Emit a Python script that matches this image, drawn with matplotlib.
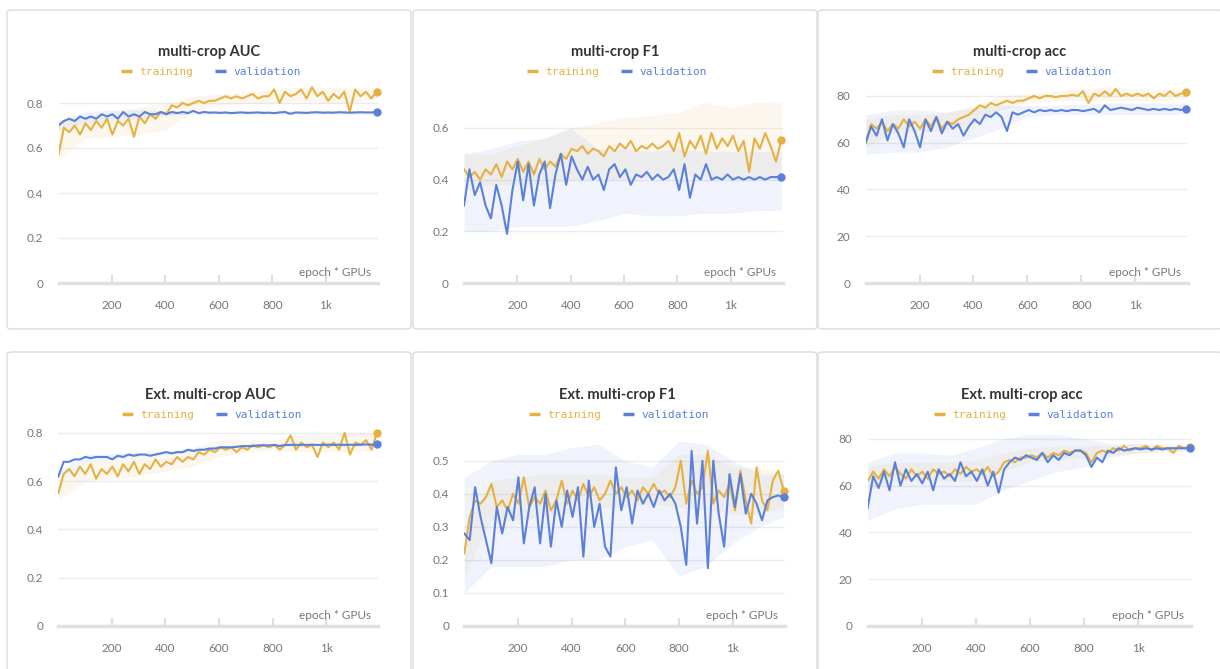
import numpy as np
import matplotlib
matplotlib.use("Agg")
import matplotlib.pyplot as plt
from matplotlib.patches import FancyBboxPatch

# ---------------- data ----------------
epochs = np.linspace(0, 1190, 60)
band_epochs = [0, 100, 200, 300, 400, 500, 600, 700, 800, 900, 1000, 1100, 1190]
x_ticks = [200, 400, 600, 800, 1000]
x_tick_labels = ["200", "400", "600", "800", "1k"]

titles = ["multi-crop AUC", "multi-crop F1", "multi-crop acc",
          "Ext. multi-crop AUC", "Ext. multi-crop F1", "Ext. multi-crop acc"]
series_names = ["training", "validation"]

auc_train = [0.57, 0.69, 0.67, 0.70, 0.66, 0.71, 0.68, 0.72, 0.69, 0.73,
             0.66, 0.72, 0.70, 0.73, 0.65, 0.74, 0.71, 0.75, 0.73, 0.76,
             0.75, 0.79, 0.78, 0.80, 0.79, 0.80, 0.81, 0.80, 0.81, 0.81,
             0.82, 0.83, 0.82, 0.83, 0.82, 0.83, 0.84, 0.82, 0.83, 0.83,
             0.86, 0.80, 0.85, 0.83, 0.84, 0.86, 0.82, 0.87, 0.83, 0.85,
             0.81, 0.84, 0.82, 0.85, 0.76, 0.86, 0.83, 0.85, 0.82, 0.85]
auc_val = [0.70, 0.72, 0.73, 0.72, 0.74, 0.73, 0.74, 0.73, 0.75, 0.74,
           0.75, 0.73, 0.76, 0.74, 0.75, 0.74, 0.76, 0.75, 0.75, 0.76,
           0.75, 0.76, 0.755, 0.76, 0.755, 0.765, 0.755, 0.76, 0.757, 0.758,
           0.756, 0.758, 0.755, 0.757, 0.758, 0.756, 0.757, 0.758, 0.756, 0.757,
           0.755, 0.758, 0.76, 0.752, 0.758, 0.757, 0.756, 0.758, 0.759, 0.757,
           0.758, 0.757, 0.759, 0.758, 0.757, 0.758, 0.759, 0.758, 0.758, 0.76]
auc_train_lo = [0.55, 0.64, 0.65, 0.66, 0.68, 0.76, 0.79, 0.80, 0.80, 0.81, 0.80, 0.80, 0.82]
auc_train_hi = [0.72, 0.74, 0.76, 0.78, 0.80, 0.83, 0.84, 0.85, 0.86, 0.87, 0.87, 0.87, 0.87]
auc_val_lo = [0.68, 0.71, 0.72, 0.73, 0.745, 0.75, 0.75, 0.75, 0.75, 0.75, 0.75, 0.75, 0.75]
auc_val_hi = [0.72, 0.76, 0.77, 0.77, 0.765, 0.765, 0.765, 0.765, 0.765, 0.765, 0.765, 0.765, 0.765]

f1_train = [0.44, 0.41, 0.43, 0.40, 0.44, 0.42, 0.46, 0.41, 0.47, 0.44,
            0.48, 0.43, 0.47, 0.42, 0.48, 0.44, 0.47, 0.45, 0.50, 0.48,
            0.52, 0.51, 0.53, 0.50, 0.52, 0.51, 0.49, 0.53, 0.51, 0.54,
            0.52, 0.55, 0.51, 0.53, 0.52, 0.54, 0.52, 0.53, 0.55, 0.51,
            0.58, 0.49, 0.55, 0.52, 0.57, 0.50, 0.58, 0.52, 0.56, 0.53,
            0.57, 0.51, 0.55, 0.43, 0.56, 0.52, 0.58, 0.53, 0.47, 0.555]
f1_val = [0.30, 0.44, 0.34, 0.39, 0.30, 0.25, 0.38, 0.30, 0.19, 0.36,
          0.47, 0.32, 0.46, 0.30, 0.42, 0.47, 0.29, 0.42, 0.50, 0.38,
          0.49, 0.44, 0.40, 0.45, 0.40, 0.42, 0.36, 0.44, 0.46, 0.41,
          0.44, 0.38, 0.42, 0.41, 0.43, 0.40, 0.42, 0.40, 0.41, 0.44,
          0.36, 0.46, 0.33, 0.42, 0.40, 0.46, 0.40, 0.41, 0.40, 0.42,
          0.40, 0.41, 0.40, 0.41, 0.40, 0.41, 0.40, 0.41, 0.41, 0.41]
f1_train_lo = [0.36, 0.38, 0.38, 0.38, 0.40, 0.40, 0.40, 0.41, 0.42, 0.41, 0.40, 0.40, 0.40]
f1_train_hi = [0.50, 0.50, 0.53, 0.56, 0.60, 0.62, 0.64, 0.65, 0.66, 0.70, 0.68, 0.70, 0.70]
f1_val_lo = [0.20, 0.20, 0.22, 0.22, 0.22, 0.24, 0.27, 0.26, 0.26, 0.27, 0.27, 0.28, 0.28]
f1_val_hi = [0.50, 0.52, 0.55, 0.56, 0.60, 0.52, 0.52, 0.51, 0.52, 0.51, 0.51, 0.51, 0.51]

acc_train = [60, 68, 66, 69, 65, 68, 66, 70, 67, 69,
             66, 70, 67, 71, 66, 69, 68, 70, 71, 72,
             74, 76, 75, 77, 76, 77, 78, 77, 78, 78,
             79, 80, 79, 80, 80, 79.5, 80, 80, 80.5, 80,
             82, 77, 81, 80, 82, 80, 83, 80, 81, 80,
             81, 80, 81, 79, 81, 80, 82, 80, 81, 81.5]
acc_val = [60, 67, 63, 70, 61, 68, 64, 58, 70, 65,
           58, 70, 65, 71, 64, 69, 66, 68, 63, 67,
           70, 68, 72, 71, 73, 71, 65, 73, 72, 73,
           74, 73, 74, 73.5, 74, 73.5, 74, 73.5, 74, 74,
           73.5, 74, 74.5, 73, 76, 74, 74.5, 75, 74.5, 74,
           75, 74.5, 74, 74.5, 74, 74.5, 74, 74.5, 74, 74.5]
acc_train_lo = [58, 64, 65, 65, 68, 74, 77, 78, 78, 78, 78, 78, 79]
acc_train_hi = [70, 72, 72, 73, 76, 80, 81, 82, 83, 84, 83, 83, 83]
acc_val_lo = [55, 56, 56, 58, 62, 66, 71, 72, 72, 72, 72, 72, 72]
acc_val_hi = [72, 74, 74, 73, 75, 76, 76, 76, 76.5, 77, 77, 77, 77]

ext_auc_train = [0.55, 0.63, 0.65, 0.62, 0.66, 0.63, 0.67, 0.61, 0.65, 0.63,
                 0.66, 0.62, 0.67, 0.64, 0.68, 0.63, 0.67, 0.65, 0.69, 0.66,
                 0.68, 0.67, 0.70, 0.68, 0.70, 0.69, 0.72, 0.71, 0.73, 0.72,
                 0.74, 0.73, 0.74, 0.72, 0.74, 0.73, 0.75, 0.74, 0.75, 0.74,
                 0.75, 0.73, 0.75, 0.79, 0.73, 0.76, 0.74, 0.75, 0.70, 0.76,
                 0.74, 0.76, 0.73, 0.80, 0.71, 0.76, 0.75, 0.77, 0.73, 0.80]
ext_auc_val = [0.62, 0.68, 0.68, 0.69, 0.69, 0.70, 0.695, 0.70, 0.70, 0.70,
               0.69, 0.705, 0.70, 0.71, 0.705, 0.71, 0.71, 0.705, 0.71, 0.715,
               0.72, 0.715, 0.72, 0.72, 0.73, 0.725, 0.73, 0.73, 0.735, 0.735,
               0.74, 0.74, 0.74, 0.742, 0.745, 0.745, 0.745, 0.748, 0.748, 0.748,
               0.75, 0.745, 0.75, 0.75, 0.75, 0.75, 0.75, 0.751, 0.75, 0.75,
               0.751, 0.75, 0.751, 0.75, 0.751, 0.75, 0.751, 0.752, 0.751, 0.752]
ext_auc_train_lo = [0.52, 0.60, 0.61, 0.62, 0.64, 0.66, 0.70, 0.72, 0.73, 0.72, 0.72, 0.72, 0.73]
ext_auc_train_hi = [0.60, 0.68, 0.69, 0.70, 0.71, 0.74, 0.77, 0.77, 0.77, 0.79, 0.79, 0.80, 0.80]
ext_auc_val_lo = [0.60, 0.68, 0.69, 0.70, 0.71, 0.72, 0.735, 0.74, 0.745, 0.745, 0.745, 0.745, 0.745]
ext_auc_val_hi = [0.64, 0.71, 0.715, 0.72, 0.725, 0.735, 0.745, 0.75, 0.755, 0.755, 0.755, 0.755, 0.758]

ext_f1_train = [0.22, 0.33, 0.38, 0.37, 0.39, 0.43, 0.36, 0.38, 0.35, 0.40,
                0.37, 0.45, 0.36, 0.39, 0.37, 0.41, 0.35, 0.38, 0.44, 0.37,
                0.41, 0.38, 0.43, 0.39, 0.42, 0.38, 0.40, 0.44, 0.40, 0.42,
                0.39, 0.41, 0.38, 0.42, 0.40, 0.43, 0.40, 0.41, 0.39, 0.42,
                0.50, 0.37, 0.44, 0.40, 0.42, 0.53, 0.37, 0.41, 0.39, 0.43,
                0.35, 0.47, 0.38, 0.31, 0.48, 0.38, 0.35, 0.44, 0.47, 0.41]
ext_f1_val = [0.28, 0.26, 0.42, 0.33, 0.26, 0.19, 0.36, 0.28, 0.36, 0.32,
              0.45, 0.25, 0.36, 0.42, 0.25, 0.40, 0.24, 0.38, 0.30, 0.41,
              0.33, 0.42, 0.21, 0.44, 0.30, 0.37, 0.24, 0.21, 0.48, 0.35,
              0.42, 0.31, 0.41, 0.37, 0.40, 0.36, 0.41, 0.38, 0.40, 0.37,
              0.30, 0.185, 0.53, 0.31, 0.50, 0.175, 0.50, 0.34, 0.24, 0.46,
              0.36, 0.46, 0.34, 0.40, 0.37, 0.32, 0.38, 0.39, 0.395, 0.39]
ext_f1_train_lo = [0.15, 0.32, 0.32, 0.33, 0.34, 0.36, 0.36, 0.37, 0.36, 0.35, 0.34, 0.34, 0.36]
ext_f1_train_hi = [0.30, 0.44, 0.45, 0.46, 0.46, 0.46, 0.45, 0.45, 0.52, 0.52, 0.48, 0.48, 0.46]
ext_f1_val_lo = [0.10, 0.18, 0.18, 0.18, 0.20, 0.20, 0.24, 0.26, 0.15, 0.18, 0.25, 0.30, 0.33]
ext_f1_val_hi = [0.45, 0.50, 0.52, 0.52, 0.54, 0.55, 0.50, 0.48, 0.56, 0.55, 0.50, 0.46, 0.46]

ext_acc_train = [62, 66, 63, 67, 64, 68, 65, 63, 67, 64,
                 66, 63, 67, 65, 66, 64, 67, 65, 68, 66,
                 67, 65, 68, 64, 66, 70, 71, 70, 72, 72,
                 73, 72, 74, 72, 74, 73, 75, 74, 75, 75,
                 74, 70, 74, 75, 74, 76, 75, 77, 75, 76,
                 76, 77, 75, 77, 76, 76, 74, 77, 76, 76.5]
ext_acc_val = [50.5, 64, 59, 66, 58, 70, 60, 67, 62, 65,
               61, 66, 58, 67, 63, 65, 62, 70, 64, 66,
               62, 67, 60, 66, 57, 67, 70, 72, 71, 73,
               72, 71, 74, 70, 73, 71, 74, 73, 75, 75,
               73, 68, 72, 70, 75, 74, 76, 75, 75.5, 76,
               75.5, 76, 75.5, 76, 75.5, 76, 76, 76, 76, 76]
ext_acc_train_lo = [58, 62, 62, 62, 62, 66, 70, 71, 72, 73, 74, 74, 75]
ext_acc_train_hi = [68, 70, 70, 70, 71, 74, 76, 77, 77, 77, 78, 78, 78]
ext_acc_val_lo = [45, 50, 52, 52, 52, 58, 62, 66, 68, 72, 74, 75, 75]
ext_acc_val_hi = [70, 74, 74, 73, 76, 80, 82, 82, 80, 78, 78, 77, 77]

y_ticks_auc = [0, 0.2, 0.4, 0.6, 0.8]
y_ticks_f1 = [0, 0.2, 0.4, 0.6]
y_ticks_acc = [0, 20, 40, 60, 80]
y_ticks_ext_f1 = [0, 0.1, 0.2, 0.3, 0.4, 0.5]

# ---------------- styling / layout ----------------
W, H = 1220, 669
C_TRAIN = "#E5B143"
C_VAL = "#5B80DA"
TICK_C = "#777777"
FONT = "Lato"

plt.rcParams["font.family"] = [FONT, "DejaVu Sans"]

fig = plt.figure(figsize=(W / 100, H / 100), dpi=100)
fig.patch.set_facecolor("white")

panels = [
    dict(title=titles[0], tr=auc_train, va=auc_val, bands=(auc_train_lo, auc_train_hi, auc_val_lo, auc_val_hi),
         yt=y_ticks_auc, ytl=["0", "0.2", "0.4", "0.6", "0.8"], ymax=0.88,
         rect=(7, 10, 411, 329), ax=(58.5, 378, 85, 283), cx=209, ty=52, ly=72),
    dict(title=titles[1], tr=f1_train, va=f1_val, bands=(f1_train_lo, f1_train_hi, f1_val_lo, f1_val_hi),
         yt=y_ticks_f1, ytl=["0", "0.2", "0.4", "0.6"], ymax=0.747,
         rect=(413, 10, 817, 329), ax=(464, 782.7, 90, 283), cx=615, ty=52, ly=72),
    dict(title=titles[2], tr=acc_train, va=acc_val, bands=(acc_train_lo, acc_train_hi, acc_val_lo, acc_val_hi),
         yt=y_ticks_acc, ytl=["0", "20", "40", "60", "80"], ymax=84.7,
         rect=(818, 10, 1222, 329), ax=(865.7, 1187.7, 85, 283), cx=1020, ty=52, ly=72),
    dict(title=titles[3], tr=ext_auc_train, va=ext_auc_val,
         bands=(ext_auc_train_lo, ext_auc_train_hi, ext_auc_val_lo, ext_auc_val_hi),
         yt=y_ticks_auc, ytl=["0", "0.2", "0.4", "0.6", "0.8"], ymax=0.82,
         rect=(7, 352, 411, 672), ax=(58.3, 378.3, 428, 626), cx=210, ty=395, ly=415),
    dict(title=titles[4], tr=ext_f1_train, va=ext_f1_val,
         bands=(ext_f1_train_lo, ext_f1_train_hi, ext_f1_val_lo, ext_f1_val_hi),
         yt=y_ticks_ext_f1, ytl=["0", "0.1", "0.2", "0.3", "0.4", "0.5"], ymax=0.578,
         rect=(413, 352, 817, 672), ax=(464.3, 785, 435, 626), cx=617, ty=395, ly=415),
    dict(title=titles[5], tr=ext_acc_train, va=ext_acc_val,
         bands=(ext_acc_train_lo, ext_acc_train_hi, ext_acc_val_lo, ext_acc_val_hi),
         yt=y_ticks_acc, ytl=["0", "20", "40", "60", "80"], ymax=83.8,
         rect=(818, 352, 1222, 672), ax=(867.7, 1191, 430, 626), cx=1022, ty=395, ly=415),
]


def fx(x):
    return x / W


def fy(y):
    return 1 - y / H


for p in panels:
    x0, y0, x1, y1 = p["rect"]
    box = FancyBboxPatch((fx(x0), fy(y1)), fx(x1 - x0), (y1 - y0) / H,
                         boxstyle="round,pad=0,rounding_size=0.004",
                         transform=fig.transFigure, facecolor="white",
                         edgecolor="#dcdcdc", linewidth=1.0, zorder=-5)
    fig.patches.append(box)

    l, r, t, b = p["ax"]
    ax = fig.add_axes([fx(l), fy(b), fx(r - l), (b - t) / H])
    ax.set_facecolor("none")
    ax.set_xlim(0, 1195)
    ax.set_ylim(0, p["ymax"])
    for s in ax.spines.values():
        s.set_visible(False)

    tr_lo, tr_hi, va_lo, va_hi = p["bands"]
    ax.fill_between(band_epochs, tr_lo, tr_hi, color=C_TRAIN, alpha=0.09, lw=0, zorder=1)
    ax.fill_between(band_epochs, va_lo, va_hi, color=C_VAL, alpha=0.09, lw=0, zorder=1)
    ax.plot(epochs, p["tr"], color=C_TRAIN, lw=1.5, zorder=3)
    ax.plot(epochs, p["va"], color=C_VAL, lw=1.5, zorder=4)
    ax.plot(epochs[-1], p["tr"][-1], "o", color=C_TRAIN, ms=5, zorder=5, clip_on=False)
    ax.plot(epochs[-1], p["va"][-1], "o", color=C_VAL, ms=5, zorder=6, clip_on=False)

    ax.set_yticks(p["yt"])
    ax.set_yticklabels(p["ytl"])
    ax.set_xticks(x_ticks)
    ax.set_xticklabels(x_tick_labels)
    ax.grid(axis="y", color="#ececec", lw=1.0)
    ax.set_axisbelow(True)
    ax.tick_params(axis="y", length=0, pad=11, labelsize=8.5, labelcolor=TICK_C)
    ax.tick_params(axis="x", direction="in", length=6, width=1.5, color="#dedede",
                   pad=12, labelsize=8.5, labelcolor=TICK_C)
    ax.axhline(0, color="#e0e0e0", lw=2.5, zorder=2, clip_on=False)
    ax.annotate("epoch * GPUs", xy=(1, 0), xycoords="axes fraction",
                xytext=(-5, 7.5), textcoords="offset points", ha="right", va="center",
                fontsize=8.5, color="#777777")

    fig.text(fx(p["cx"]), fy(p["ty"]), p["title"], ha="center", va="center",
             fontsize=10.5, fontweight="bold", color="#333333")
    cx, ly = p["cx"], p["ly"]
    for dx_line, dx_text, name, col in [(-88, -70, series_names[0], C_TRAIN),
                                          (6, 24, series_names[1], C_VAL)]:
        fig.add_artist(plt.Line2D([fx(cx + dx_line), fx(cx + dx_line + 11)], [fy(ly - 1), fy(ly - 1)],
                                  transform=fig.transFigure, color=col, lw=2.5,
                                  solid_capstyle="butt"))
        fig.text(fx(cx + dx_text), fy(ly), name, ha="left", va="center",
                 fontsize=8, family="DejaVu Sans Mono", color=col)

fig.savefig("out.png", dpi=100, facecolor="white")
